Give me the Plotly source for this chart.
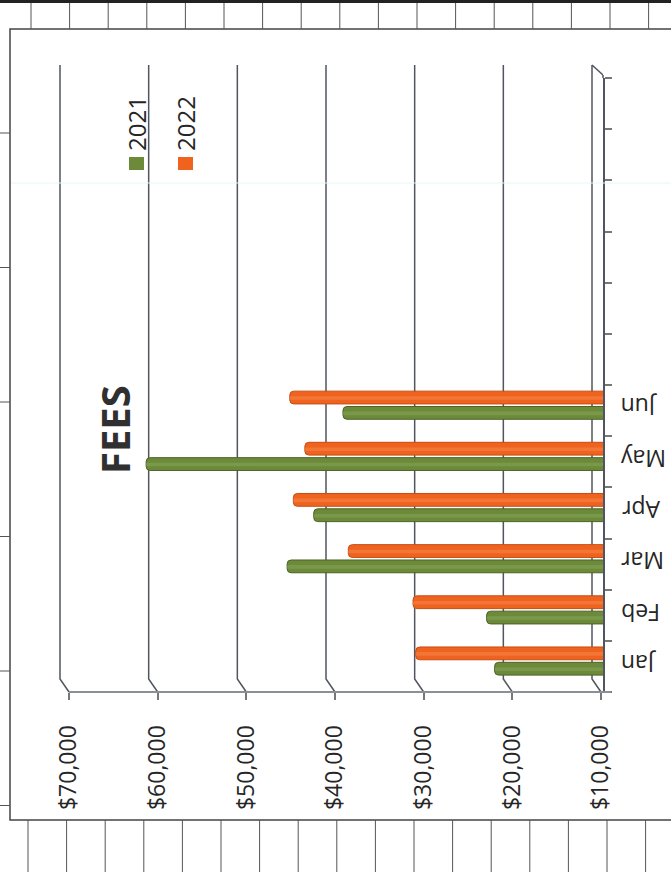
import plotly.graph_objects as go

# ---- data ----
months = ["Jan", "Feb", "Mar", "Apr", "May", "Jun"]
n_slots = 12  # Jan..Dec slots on the category axis
series_names = ["2021", "2022"]
fees_2021 = [22000, 22900, 45400, 42400, 61300, 39100]
fees_2022 = [30900, 31200, 38500, 44700, 43400, 45100]
tick_values = [10000, 20000, 30000, 40000, 50000, 60000, 70000]
tick_labels = ["$10,000", "$20,000", "$30,000", "$40,000", "$50,000", "$60,000", "$70,000"]
title_text = "FEES"

# ---- layout geometry (pixels) ----
W, H = 671, 872
L, R, T, B = 58, 603, 78, 692
PW, PH = R - L, B - T


def px(x):
    return (x - L) / PW


def py(y):
    return (B - y) / PH


upp = (max(tick_values) - min(tick_values)) / (601 - 69)  # value units per pixel
x_left = max(tick_values) + (69 - L) * upp
x_right = min(tick_values) - (R - 601) * upp
back_off = 9 * upp  # 3-D back wall offset (axis is reversed: + moves left)

FONT = "Open Sans"
GREEN, GREEN_EDGE, GREEN_HI = "#6c8a3a", "#4a6326", "#87a556"
ORANGE, ORANGE_EDGE, ORANGE_HI = "#ef631e", "#c54d15", "#f7874d"
GRID = "#50555f"
TXT = "#262626"

pos = list(range(len(months)))

fig = go.Figure()
fig.add_bar(y=pos, x=fees_2021, orientation="h", name=series_names[0],
            offset=-0.17, width=0.25,
            marker=dict(color=GREEN, line=dict(color=GREEN_EDGE, width=1), cornerradius=4))
fig.add_bar(y=pos, x=fees_2022, orientation="h", name=series_names[1],
            offset=0.13, width=0.25,
            marker=dict(color=ORANGE, line=dict(color=ORANGE_EDGE, width=1), cornerradius=4))
# cylinder highlights
fig.add_bar(y=pos, x=fees_2021, orientation="h", offset=-0.09, width=0.07,
            marker=dict(color=GREEN_HI, line=dict(width=0), cornerradius=2), opacity=0.55)
fig.add_bar(y=pos, x=fees_2022, orientation="h", offset=0.21, width=0.07,
            marker=dict(color=ORANGE_HI, line=dict(width=0), cornerradius=2), opacity=0.55)

shapes = []
# back-wall gridlines with 3-D floor connector
for v in tick_values:
    shapes.append(dict(type="path", xref="x", yref="paper", layer="below",
                       path=f"M {v + back_off},{py(65)} L {v + back_off},{py(679)} L {v},{py(692)}",
                       line=dict(color=GRID, width=1.5)))
# top connector of right walls
shapes.append(dict(type="line", xref="x", yref="paper",
                   x0=min(tick_values) + back_off, y0=py(65), x1=x_right, y1=py(75),
                   line=dict(color=GRID, width=1.5)))
shapes.append(dict(type="line", xref="paper", yref="paper",
                   x0=1, y0=py(75), x1=1, y1=1, line=dict(color=GRID, width=1.5)))
# front floor line
shapes.append(dict(type="line", xref="paper", yref="paper",
                   x0=px(69), y0=0, x1=px(611), y1=0, line=dict(color="#8a8f98", width=2)))
# legend swatches
sw_x = [129, 178]
sw_cols = [GREEN, ORANGE]
for xs, c in zip(sw_x, sw_cols):
    shapes.append(dict(type="rect", xref="paper", yref="paper",
                       x0=px(xs), x1=px(xs + 15), y0=py(170), y1=py(157),
                       fillcolor=c, line=dict(width=0)))
# chart border
shapes.append(dict(type="rect", xref="paper", yref="paper",
                   x0=px(10), y0=py(820), x1=px(680), y1=py(29),
                   line=dict(color="#444444", width=1.5)))
# page/table lines from the scanned sheet
shapes.append(dict(type="line", xref="paper", yref="paper",
                   x0=px(0), x1=px(671), y0=py(1.5), y1=py(1.5),
                   line=dict(color="#222222", width=3)))
for k in range(17):
    xt = 31 + 38.6 * k
    shapes.append(dict(type="line", xref="paper", yref="paper",
                       x0=px(xt), x1=px(xt), y0=py(3), y1=py(29),
                       line=dict(color="#555555", width=1)))
for k in range(17):
    xb = 28 + 38.6 * k
    shapes.append(dict(type="line", xref="paper", yref="paper",
                       x0=px(xb), x1=px(xb), y0=py(820), y1=py(872),
                       line=dict(color="#555555", width=1)))
for k in range(6):
    yl = 133 + 134.5 * k
    shapes.append(dict(type="line", xref="paper", yref="paper",
                       x0=px(0), x1=px(10), y0=py(yl), y1=py(yl),
                       line=dict(color="#555555", width=1)))
# faint scan streak
shapes.append(dict(type="line", xref="paper", yref="paper",
                   x0=px(11), x1=px(671), y0=py(183), y1=py(183),
                   line=dict(color="#e8f6f6", width=1)))

annotations = []
for i, m in enumerate(months):
    annotations.append(dict(text=m, x=px(619), xref="paper", xanchor="left",
                            y=i, yref="y", yanchor="middle", yshift=3, textangle=180,
                            showarrow=False,
                            font=dict(family=FONT, size=23, color=TXT)))
leg_x = [136.5, 185.5]
for name, xc in zip(series_names, leg_x):
    annotations.append(dict(text=name, x=px(xc), y=py(123.5), xref="paper", yref="paper",
                            xanchor="center", yanchor="middle",
                            textangle=-90, showarrow=False,
                            font=dict(family=FONT, size=24, color=TXT)))
annotations.append(dict(text=f"<b>{title_text}</b>", x=px(114), y=py(430),
                        xref="paper", yref="paper", xanchor="center", yanchor="middle",
                        textangle=-90, showarrow=False,
                        font=dict(family=FONT, size=40, color="#303030")))

fig.update_layout(
    width=W, height=H,
    margin=dict(l=L, r=W - R, t=T, b=H - B, pad=0),
    paper_bgcolor="white", plot_bgcolor="rgba(0,0,0,0)",
    showlegend=False, barmode="overlay", hovermode=False,
    shapes=shapes, annotations=annotations,
    font=dict(family=FONT, size=23, color=TXT),
)
fig.update_xaxes(range=[x_left, x_right], tickvals=tick_values, ticktext=tick_labels,
                 tickangle=-90, ticks="outside", ticklen=7, tickwidth=1.5, tickcolor="#777777",
                 ticklabelstandoff=16, showgrid=False, zeroline=False, showline=False,
                 tickfont=dict(family=FONT, size=23, color=TXT))
fig.update_yaxes(range=[-0.5, n_slots - 0.5], tickmode="linear", tick0=-0.5, dtick=1,
                 side="right", ticks="outside", ticklen=7, tickwidth=1.5, tickcolor="#777777",
                 showticklabels=False, showgrid=False, zeroline=False,
                 showline=True, linecolor=GRID, linewidth=1.5)

fig.write_html("out.html", config={"displayModeBar": False},
               post_script="document.body.style.margin='0px';")
